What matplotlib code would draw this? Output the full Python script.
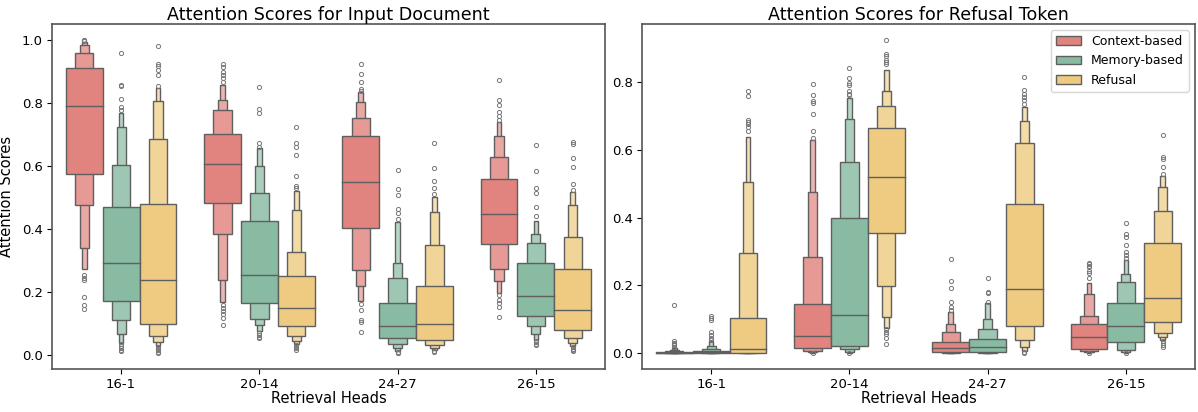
import matplotlib.pyplot as plt
import matplotlib.colors as mcolors
from matplotlib.patches import Rectangle, Patch
import numpy as np

heads = ["16-1", "20-14", "24-27", "26-15"]
groups = ["Context-based", "Memory-based", "Refusal"]
colors = ["#E1837E", "#88BBA1", "#EECB80"]

# letter-value boxes: innermost level first, one list per head
doc_median = [
    [0.788, 0.604, 0.548, 0.446],
    [0.291, 0.254, 0.093, 0.188],
    [0.236, 0.149, 0.098, 0.143],
]
doc_lower = [
    [[0.574, 0.476, 0.339, 0.272], [0.482, 0.383, 0.238, 0.167], [0.402, 0.270, 0.217, 0.170], [0.351, 0.272, 0.233, 0.196]],
    [[0.172, 0.110, 0.067, 0.038], [0.164, 0.115, 0.094, 0.075], [0.052, 0.033, 0.022, 0.011], [0.124, 0.091, 0.066, 0.048]],
    [[0.098, 0.061, 0.041, 0.027], [0.091, 0.059, 0.043, 0.033], [0.046, 0.032, 0.022, 0.015], [0.080, 0.054, 0.038, 0.027]],
]
doc_upper = [
    [[0.911, 0.959, 0.982, 0.994], [0.701, 0.777, 0.810, 0.855], [0.694, 0.753, 0.803, 0.833], [0.557, 0.629, 0.693, 0.738]],
    [[0.468, 0.602, 0.722, 0.768], [0.425, 0.514, 0.599, 0.655], [0.164, 0.243, 0.291, 0.420], [0.291, 0.354, 0.384, 0.425]],
    [[0.479, 0.684, 0.806, 0.848], [0.249, 0.327, 0.459, 0.520], [0.217, 0.348, 0.453, 0.500], [0.272, 0.375, 0.474, 0.516]],
]
doc_fliers = [
    [[0.997, 0.999, 1.0, 0.254, 0.244, 0.236, 0.185, 0.159, 0.146],
     [0.924, 0.912, 0.898, 0.887, 0.877, 0.866, 0.159, 0.150, 0.140, 0.130, 0.118, 0.096],
     [0.924, 0.892, 0.866, 0.842, 0.836, 0.162, 0.143, 0.112, 0.103, 0.073],
     [0.872, 0.808, 0.792, 0.771, 0.757, 0.745, 0.189, 0.175, 0.165, 0.152, 0.119]],
    [[0.959, 0.855, 0.853, 0.813, 0.785, 0.776, 0.033, 0.027, 0.022, 0.016, 0.011],
     [0.850, 0.779, 0.766, 0.671, 0.660, 0.070, 0.064, 0.058, 0.052],
     [0.588, 0.526, 0.506, 0.463, 0.449, 0.431, 0.009, 0.007, 0.005],
     [0.666, 0.583, 0.528, 0.513, 0.470, 0.439, 0.044, 0.040, 0.036, 0.032]],
    [[0.980, 0.924, 0.916, 0.903, 0.889, 0.852, 0.024, 0.019, 0.014, 0.009, 0.005],
     [0.722, 0.671, 0.660, 0.634, 0.567, 0.536, 0.528, 0.030, 0.026, 0.021, 0.016],
     [0.673, 0.592, 0.552, 0.528, 0.510, 0.012, 0.009],
     [0.676, 0.669, 0.625, 0.595, 0.541, 0.523, 0.024, 0.019, 0.015, 0.011]],
]

tok_median = [
    [0.0015, 0.051, 0.015, 0.047],
    [0.004, 0.113, 0.018, 0.080],
    [0.012, 0.519, 0.189, 0.162],
]
tok_lower = [
    [[0.0005, 0.0002, 0.0001, 0.0], [0.015, 0.008, 0.004, 0.001], [0.003, 0.002, 0.001, 0.0], [0.013, 0.008, 0.005, 0.002]],
    [[0.002, 0.001, 0.0005, 0.0], [0.021, 0.012, 0.005, 0.002], [0.003, 0.002, 0.001, 0.0], [0.034, 0.010, 0.005, 0.002]],
    [[0.002, 0.001, 0.0005, 0.0], [0.356, 0.199, 0.106, 0.075], [0.080, 0.039, 0.019, 0.008], [0.091, 0.061, 0.049, 0.039]],
]
tok_upper = [
    [[0.003, 0.006, 0.010, 0.016], [0.145, 0.284, 0.476, 0.630], [0.034, 0.062, 0.085, 0.123], [0.086, 0.111, 0.175, 0.206]],
    [[0.006, 0.012, 0.022, 0.036], [0.400, 0.564, 0.692, 0.753], [0.043, 0.072, 0.102, 0.147], [0.147, 0.211, 0.233, 0.275]],
    [[0.103, 0.297, 0.504, 0.638], [0.664, 0.728, 0.773, 0.836], [0.441, 0.621, 0.684, 0.726], [0.324, 0.419, 0.489, 0.523]],
]
tok_fliers = [
    [[0.142, 0.035, 0.031, 0.027, 0.024, 0.020],
     [0.795, 0.761, 0.744, 0.738, 0.707, 0.655, 0.635, 0.0],
     [0.278, 0.214, 0.194, 0.150, 0.137, 0.129],
     [0.265, 0.262, 0.258, 0.254, 0.243, 0.236, 0.221, 0.0]],
    [[0.111, 0.105, 0.098, 0.064, 0.054, 0.044, 0.040],
     [0.842, 0.813, 0.797, 0.790, 0.775, 0.766, 0.761, 0.0],
     [0.221, 0.182, 0.178, 0.152],
     [0.383, 0.353, 0.343, 0.319, 0.299, 0.290, 0.280, 0.0]],
    [[0.775, 0.758, 0.689, 0.683, 0.676, 0.667, 0.655],
     [0.925, 0.883, 0.876, 0.866, 0.859, 0.852, 0.071, 0.064, 0.057, 0.044, 0.027],
     [0.815, 0.778, 0.766, 0.756, 0.746, 0.736, 0.005, 0.002],
     [0.643, 0.579, 0.574, 0.549, 0.530, 0.035, 0.030, 0.025, 0.020]],
]

line_col = "#5f5f5f"
box_w = 0.8 / 3
fade = [0.0, 0.18, 0.3, 0.42]


def lighten(c, f):
    rgb = np.array(mcolors.to_rgb(c))
    return tuple(rgb + (1 - rgb) * f)


def boxen(ax, median, lower, upper, fliers, title):
    for h in range(len(groups)):
        for i in range(len(heads)):
            xc = i + (h - 1) * box_w
            # outermost level first so the inner ones sit on top
            for k in reversed(range(len(lower[h][i]))):
                w = box_w * 0.5 ** k
                lo, hi = lower[h][i][k], upper[h][i][k]
                ax.add_patch(Rectangle((xc - w / 2, lo), w, hi - lo,
                                       facecolor=lighten(colors[h], fade[k]),
                                       edgecolor=line_col, linewidth=1.0, zorder=2 + (3 - k) * 0.1))
            ax.plot([xc - box_w / 2, xc + box_w / 2], [median[h][i]] * 2,
                    color=line_col, lw=1.0, zorder=3)
            fl = fliers[h][i]
            ax.plot([xc] * len(fl), fl, ls="none", marker="o", ms=3.0,
                    mfc="none", mec="#777777", mew=0.7, zorder=3)
    ax.set_xlim(-0.5, len(heads) - 0.5)
    ax.autoscale_view(scalex=False)
    ax.set_xticks(range(len(heads)))
    ax.set_xticklabels(heads)
    ax.set_xlabel("Retrieval Heads", fontsize=10.5, labelpad=0)
    ax.set_title(title, fontsize=12.6, pad=3)
    ax.tick_params(labelsize=9.5, pad=3)
    for s in ax.spines.values():
        s.set_color("#555555")
        s.set_linewidth(1.2)


fig = plt.figure(figsize=(11.98, 4.12), dpi=100)
ax1 = fig.add_axes([0.0434, 0.1044, 0.4616, 0.8374])
ax2 = fig.add_axes([0.5359, 0.1044, 0.4616, 0.8374])

boxen(ax1, doc_median, doc_lower, doc_upper, doc_fliers, "Attention Scores for Input Document")
ax1.set_ylabel("Attention Scores", fontsize=10.5, labelpad=6)
boxen(ax2, tok_median, tok_lower, tok_upper, tok_fliers, "Attention Scores for Refusal Token")

handles = [Patch(facecolor=c, edgecolor=line_col, label=g) for c, g in zip(colors, groups)]
ax2.legend(handles=handles, loc="upper right", fontsize=9)

fig.savefig("out.png", dpi=100)
